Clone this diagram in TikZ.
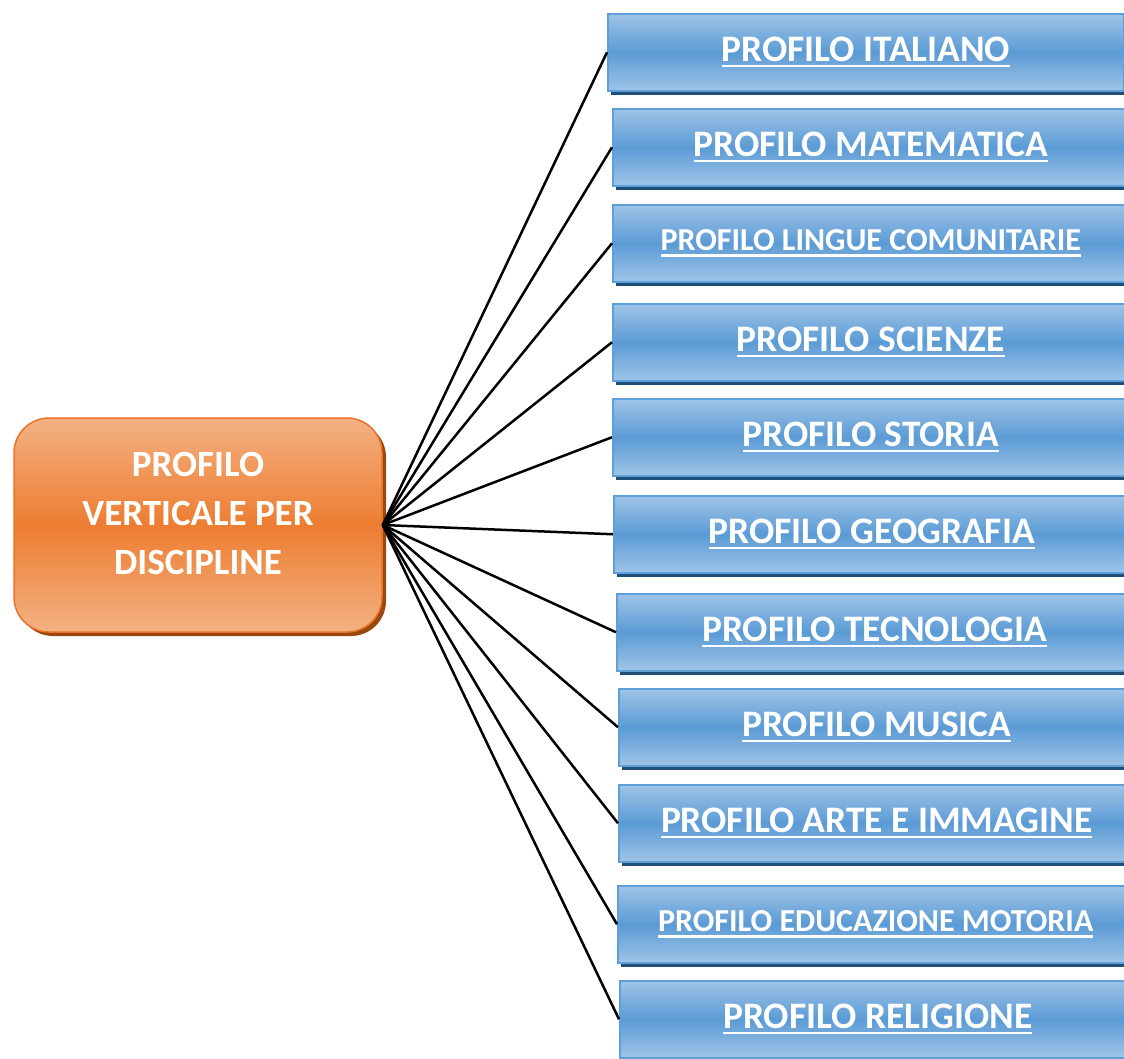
\documentclass[tikz,border=0pt]{standalone}
\usepackage{fontspec}
\setmainfont{Carlito}
\usetikzlibrary{shadows}

\definecolor{orangemid}{HTML}{ED7D31}
\definecolor{orangelight}{HTML}{F4B183}
\definecolor{orangeline}{HTML}{E8732A}
\definecolor{orangeshadow}{HTML}{9A4710}
\definecolor{bluemid}{HTML}{5B9BD5}
\definecolor{bluelight}{HTML}{9FC4E7}
\definecolor{blueline}{HTML}{5E9FDA}
\definecolor{blueshadow}{HTML}{1F4E79}

% underlined label
\newcommand\undl[1]{\setbox0\hbox{#1}\rlap{\rule[-5.7pt]{\wd0}{2.7pt}}\box0}

\begin{document}
\begin{tikzpicture}[x=1pt,y=-1pt,
    mainbox/.style={rounded corners=35pt, minimum width=368pt, minimum height=214pt,
        inner sep=0pt, draw=orangeline, line width=1.5pt,
        top color=orangelight, bottom color=orangelight, middle color=orangemid,
        drop shadow={shadow xshift=4pt, shadow yshift=-4pt, fill=orangeshadow, opacity=1},
        text=white, align=center, text depth=24pt,
        font=\fontsize{37}{49}\selectfont\bfseries},
    discbox/.style={anchor=north west, minimum width=516pt, minimum height=77pt,
        inner sep=0pt, draw=blueline, line width=1.5pt,
        top color=bluelight, bottom color=bluelight, middle color=bluemid,
        drop shadow={shadow xshift=3pt, shadow yshift=-4pt, fill=blueshadow, opacity=1},
        text=white, font=\fontsize{37.4}{40}\selectfont\bfseries},
    discsmall/.style={discbox, font=\fontsize{32}{36}\selectfont\bfseries},
    link/.style={line width=2.5pt, black}]
\useasboundingbox (0,0) rectangle (1124,1058);
\clip (0,0) rectangle (1124,1058);

% Main box
\node[mainbox] (prof) at (198,525) {PROFILO\\VERTICALE PER\\DISCIPLINE};

% Disciplines
\node[discbox] (ita) at (607,13) {\undl{PROFILO ITALIANO}};
\node[discbox] (mat) at (612,108) {\undl{PROFILO MATEMATICA}};
\node[discsmall] (lin) at (612,204) {\undl{PROFILO LINGUE COMUNITARIE}};
\node[discbox] (sci) at (612,303) {\undl{PROFILO SCIENZE}};
\node[discbox] (sto) at (612,398) {\undl{PROFILO STORIA}};
\node[discbox] (geo) at (613,495) {\undl{PROFILO GEOGRAFIA}};
\node[discbox] (tec) at (616,593) {\undl{PROFILO TECNOLOGIA}};
\node[discbox] (mus) at (618,688) {\undl{PROFILO MUSICA}};
\node[discbox] (art) at (618,784) {\undl{PROFILO ARTE E IMMAGINE}};
\node[discsmall] (edu) at (617,885) {\undl{PROFILO EDUCAZIONE MOTORIA}};
\node[discbox] (rel) at (619,980) {\undl{PROFILO RELIGIONE}};

% Links
\draw[link] (prof.east) -- (ita.west);
\draw[link] (prof.east) -- (mat.west);
\draw[link] (prof.east) -- (lin.west);
\draw[link] (prof.east) -- (sci.west);
\draw[link] (prof.east) -- (sto.west);
\draw[link] (prof.east) -- (geo.west);
\draw[link] (prof.east) -- (tec.west);
\draw[link] (prof.east) -- (mus.west);
\draw[link] (prof.east) -- (art.west);
\draw[link] (prof.east) -- (edu.west);
\draw[link] (prof.east) -- (rel.west);
\end{tikzpicture}
\end{document}
